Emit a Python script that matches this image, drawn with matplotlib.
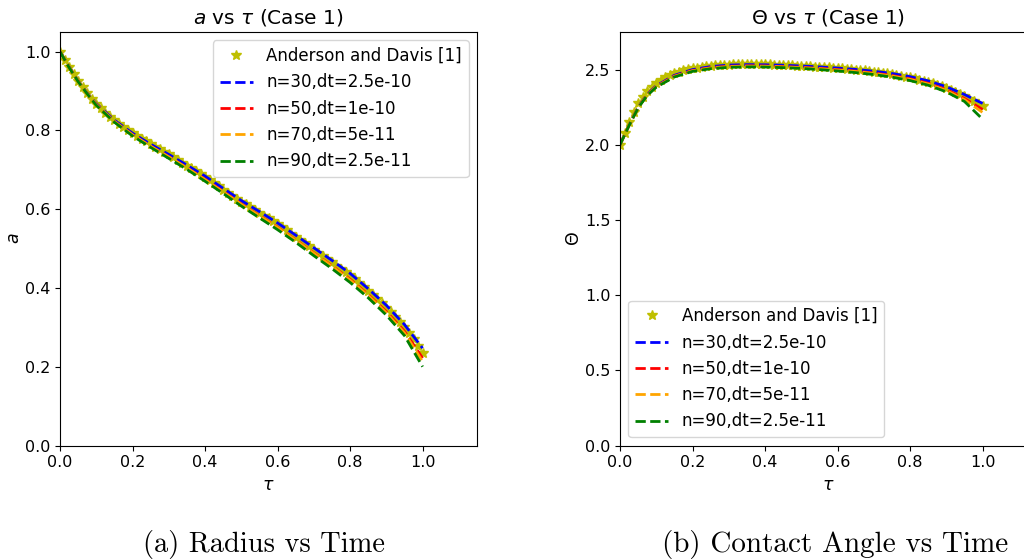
import numpy as np
import matplotlib
matplotlib.use("Agg")
import matplotlib.pyplot as plt

# ---------------- data ----------------
# reference (Anderson and Davis) samples, uniform time steps of 0.0125
tau_ref = np.linspace(0.0, 1.0, 81)

a_ref = [1.000, 0.980, 0.962, 0.943, 0.926, 0.910, 0.895, 0.881, 0.868, 0.856,
         0.845, 0.835, 0.826, 0.817, 0.808, 0.800, 0.793, 0.786, 0.779, 0.772,
         0.765, 0.758, 0.752, 0.745, 0.739, 0.732, 0.725, 0.718, 0.711, 0.704,
         0.697, 0.690, 0.682, 0.674, 0.666, 0.658, 0.650, 0.642, 0.634, 0.626,
         0.619, 0.612, 0.605, 0.598, 0.591, 0.584, 0.577, 0.570, 0.562, 0.554,
         0.546, 0.538, 0.530, 0.522, 0.514, 0.506, 0.497, 0.489, 0.481, 0.473,
         0.465, 0.457, 0.449, 0.441, 0.432, 0.423, 0.413, 0.403, 0.393, 0.383,
         0.372, 0.361, 0.350, 0.338, 0.326, 0.313, 0.300, 0.286, 0.270, 0.253,
         0.235]

theta_ref = [2.000, 2.080, 2.150, 2.215, 2.275, 2.318, 2.355, 2.385, 2.410, 2.430,
             2.448, 2.462, 2.475, 2.486, 2.495, 2.502, 2.508, 2.513, 2.518, 2.522,
             2.525, 2.528, 2.530, 2.532, 2.533, 2.534, 2.535, 2.536, 2.536, 2.536,
             2.536, 2.536, 2.535, 2.534, 2.533, 2.532, 2.531, 2.530, 2.528, 2.527,
             2.525, 2.524, 2.522, 2.520, 2.518, 2.516, 2.514, 2.512, 2.510, 2.508,
             2.505, 2.503, 2.500, 2.497, 2.494, 2.491, 2.487, 2.483, 2.479, 2.475,
             2.470, 2.465, 2.460, 2.454, 2.448, 2.441, 2.434, 2.426, 2.418, 2.409,
             2.400, 2.389, 2.378, 2.365, 2.352, 2.337, 2.322, 2.306, 2.290, 2.273,
             2.255]

tau_sim = [0.0, 0.025, 0.05, 0.075, 0.1, 0.15, 0.2, 0.25, 0.3, 0.35, 0.4, 0.45,
           0.5, 0.55, 0.6, 0.65, 0.7, 0.75, 0.8, 0.85, 0.9, 0.95, 1.0]

a_n30 = [1.0, 0.962, 0.926, 0.895, 0.868, 0.826, 0.793, 0.765, 0.739, 0.712, 0.684, 0.653,
         0.622, 0.594, 0.565, 0.534, 0.502, 0.470, 0.437, 0.398, 0.356, 0.307, 0.247]
a_n50 = [1.0, 0.961, 0.925, 0.894, 0.866, 0.823, 0.789, 0.760, 0.733, 0.705, 0.676, 0.645,
         0.613, 0.584, 0.554, 0.522, 0.489, 0.456, 0.422, 0.383, 0.340, 0.290, 0.222]
a_n70 = [1.0, 0.961, 0.925, 0.894, 0.866, 0.823, 0.789, 0.760, 0.733, 0.705, 0.675, 0.644,
         0.612, 0.583, 0.553, 0.521, 0.488, 0.455, 0.420, 0.381, 0.337, 0.286, 0.213]
a_n90 = [1.0, 0.960, 0.924, 0.893, 0.864, 0.821, 0.786, 0.757, 0.729, 0.701, 0.671, 0.640,
         0.608, 0.578, 0.548, 0.516, 0.482, 0.449, 0.414, 0.375, 0.331, 0.279, 0.200]

th_n30 = [2.0, 2.13, 2.250, 2.335, 2.392, 2.462, 2.500, 2.520, 2.530, 2.533, 2.532, 2.529,
          2.524, 2.518, 2.510, 2.501, 2.489, 2.474, 2.453, 2.425, 2.386, 2.334, 2.275]
th_n50 = [2.0, 2.13, 2.248, 2.332, 2.388, 2.457, 2.494, 2.513, 2.522, 2.525, 2.524, 2.520,
          2.515, 2.508, 2.500, 2.490, 2.477, 2.461, 2.439, 2.409, 2.367, 2.308, 2.235]
th_n70 = [2.0, 2.13, 2.247, 2.330, 2.386, 2.455, 2.492, 2.511, 2.520, 2.523, 2.522, 2.518,
          2.513, 2.506, 2.497, 2.487, 2.474, 2.457, 2.435, 2.404, 2.361, 2.300, 2.215]
th_n90 = [2.0, 2.128, 2.245, 2.328, 2.383, 2.451, 2.488, 2.506, 2.515, 2.518, 2.517, 2.513,
          2.508, 2.500, 2.491, 2.480, 2.467, 2.450, 2.427, 2.396, 2.352, 2.288, 2.170]

ref_label = "Anderson and Davis [1]"
sim_labels = ["n=30,dt=2.5e-10", "n=50,dt=1e-10", "n=70,dt=5e-11", "n=90,dt=2.5e-11"]
sim_colors = ["blue", "red", "orange", "green"]

# ---------------- figure ----------------
W, H = 1024, 560
fig = plt.figure(figsize=(W / 100, H / 100), dpi=100)

TICK = 11.5
LEG = 12
TITLE = 14.5
LABEL = 12.5


def make_axes(left_px):
    return fig.add_axes([left_px / W, (H - 445.5) / H, 417 / W, 413.5 / H])


def style(ax, ylim, yticks):
    ax.set_xlim(0, 1.15)
    ax.set_ylim(*ylim)
    ax.set_xticks([0.0, 0.2, 0.4, 0.6, 0.8, 1.0])
    ax.set_yticks(yticks)
    ax.tick_params(labelsize=TICK)
    ax.set_xlabel(r"$\tau$", fontsize=LABEL)


ax1 = make_axes(60)
ax1.plot(tau_ref, a_ref, "y*", markersize=7, label=ref_label)
for vals, c, lab in zip([a_n30, a_n50, a_n70, a_n90], sim_colors, sim_labels):
    ax1.plot(tau_sim, vals, "--", color=c, lw=2, label=lab)
style(ax1, (0, 1.05), [0.0, 0.2, 0.4, 0.6, 0.8, 1.0])
ax1.set_ylabel(r"$a$", fontsize=LABEL, labelpad=1)
ax1.set_title(r"$a$ vs $\tau$ (Case 1)", fontsize=TITLE)
ax1.legend(loc="upper right", fontsize=LEG)

ax2 = make_axes(620)
ax2.plot(tau_ref, theta_ref, "y*", markersize=7, label=ref_label)
for vals, c, lab in zip([th_n30, th_n50, th_n70, th_n90], sim_colors, sim_labels):
    ax2.plot(tau_sim, vals, "--", color=c, lw=2, label=lab)
style(ax2, (0, 2.75), [0.0, 0.5, 1.0, 1.5, 2.0, 2.5])
ax2.set_ylabel(r"$\Theta$", fontsize=LABEL, labelpad=1)
ax2.set_title(r"$\Theta$ vs $\tau$ (Case 1)", fontsize=TITLE)
ax2.legend(loc="lower left", fontsize=LEG)

fig.text(264 / W, 8 / H, "(a) Radius vs Time", fontfamily="cmr10",
         fontsize=20.5, ha="center", va="baseline")
fig.text(835 / W, 8 / H, "(b) Contact Angle vs Time", fontfamily="cmr10",
         fontsize=21, ha="center", va="baseline")

fig.savefig("out.png", dpi=100)
